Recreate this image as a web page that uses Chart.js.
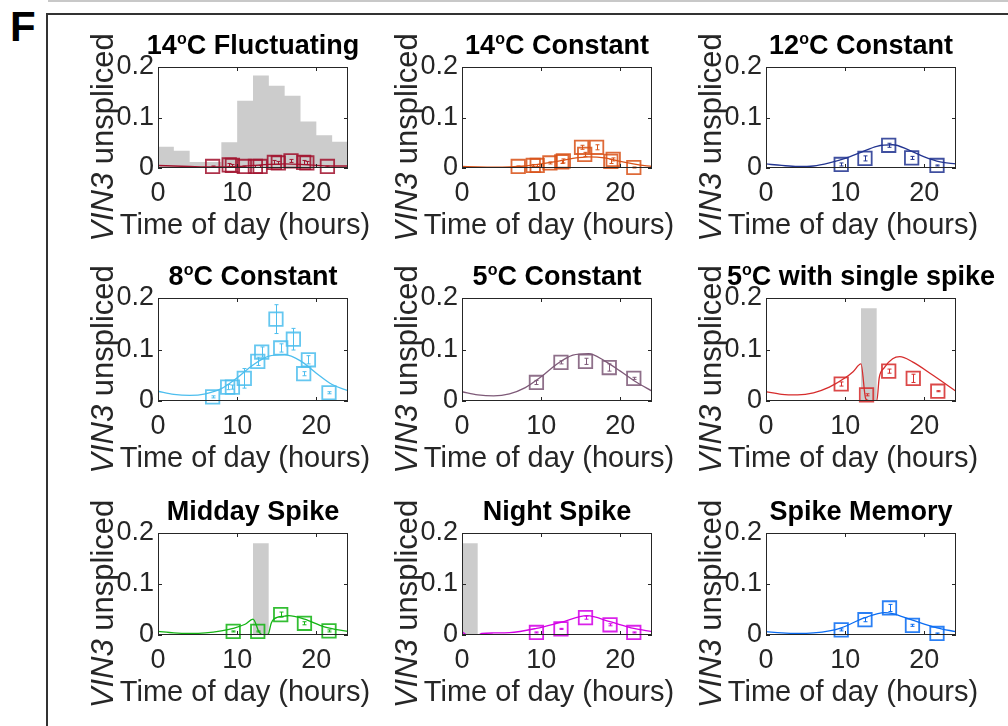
<!DOCTYPE html>
<html>
<head>
<meta charset="utf-8">
<script src="https://cdn.jsdelivr.net/npm/chart.js@4"></script>
<style>
  body { margin: 0; background: #fff; width: 1008px; height: 726px; overflow: hidden; position: relative; }
  .topline { position: absolute; left: 48px; top: 0; width: 960px; height: 2px; background: #c8c8c8; }
  .frame { position: absolute; left: 46px; top: 13px; width: 1000px; height: 800px; border-left: 2px solid #333; border-top: 2px solid #333; }
  .letter { position: absolute; left: 10px; top: 3px; font: bold 42px "Liberation Sans", Arial, sans-serif; }
  canvas { position: absolute; }
</style>
</head>
<body>
<div class="topline"></div>
<div class="frame"></div>
<div class="letter">F</div>
<script>
// panel titles, "^o" is the raised degree sign like in the original TeX
const titles = [
  "14^oC Fluctuating", "14^oC Constant", "12^oC Constant",
  "8^oC Constant", "5^oC Constant", "5^oC with single spike",
  "Midday Spike", "Night Spike", "Spike Memory"
];
const colors = ["#a2142f", "#d95319", "#233591", "#4dbeee", "#7e5a78", "#d62c2c", "#14b414", "#d400e6", "#0a6cf2"];

const xTickValues = [0, 10, 20];
const yTickValues = [0, 0.1, 0.2];

// measured samples (squares with error bars)
const sampleHours = [
  [6.9, 9.0, 9.4, 10.9, 12.3, 12.9, 14.7, 15.2, 16.8, 18.4, 18.8, 21.4],
  [7.1, 9.0, 9.5, 11.1, 12.6, 12.8, 15.1, 15.5, 17.0, 18.8, 19.1, 21.7],
  [9.5, 12.5, 15.5, 18.4, 21.6],
  [6.9, 8.8, 9.4, 10.9, 12.6, 13.1, 14.9, 15.5, 17.1, 18.4, 19.0, 21.6],
  [9.4, 12.5, 15.6, 18.6, 21.7],
  [9.5, 12.7, 15.5, 18.6, 21.7],
  [9.5, 12.6, 15.5, 18.5, 21.6],
  [9.4, 12.5, 15.6, 18.7, 21.7],
  [9.5, 12.5, 15.6, 18.5, 21.6]
];
const sampleValues = [
  [0.003, 0.006, 0.005, 0.003, 0.003, 0.003, 0.011, 0.010, 0.014, 0.011, 0.010, 0.003],
  [0.003, 0.005, 0.005, 0.010, 0.012, 0.014, 0.041, 0.027, 0.041, 0.013, 0.017, 0.001],
  [0.007, 0.019, 0.045, 0.020, 0.005],
  [0.008, 0.027, 0.027, 0.044, 0.077, 0.095, 0.159, 0.103, 0.120, 0.053, 0.080, 0.016],
  [0.036, 0.075, 0.077, 0.065, 0.044],
  [0.033, 0.012, 0.058, 0.044, 0.019],
  [0.007, 0.007, 0.040, 0.023, 0.008],
  [0.005, 0.012, 0.034, 0.020, 0.005],
  [0.010, 0.030, 0.053, 0.019, 0.003]
];
const sampleErrors = [
  [0.001, 0.003, 0.002, 0.001, 0.002, 0.002, 0.004, 0.003, 0.003, 0.004, 0.003, 0.001],
  [0.001, 0.002, 0.002, 0.002, 0.003, 0.004, 0.004, 0.004, 0.005, 0.004, 0.003, 0.001],
  [0.003, 0.005, 0.004, 0.003, 0.001],
  [0.002, 0.005, 0.004, 0.019, 0.008, 0.010, 0.028, 0.008, 0.021, 0.004, 0.008, 0.002],
  [0.004, 0.003, 0.006, 0.007, 0.002],
  [0.004, 0.002, 0.004, 0.008, 0.001],
  [0.001, 0.001, 0.005, 0.003, 0.002],
  [0.001, 0.001, 0.003, 0.002, 0.001],
  [0.002, 0.004, 0.007, 0.002, 0.001]
];

// model curves
const evenHours = [0, 2, 4, 6, 8, 10, 12, 14, 16, 18, 20, 22, 24];
const fitHours = [
  evenHours, evenHours, evenHours, evenHours, evenHours,
  [0, 2, 4, 6, 8, 10, 11, 12, 12.6, 13, 14, 14.3, 14.9, 16, 16.9, 18.5, 21, 24],
  [0, 2, 4, 6, 8, 9.5, 11, 12, 12.8, 13.3, 13.9, 14.3, 14.6, 16, 16.5, 18.5, 21, 24],
  [0, 0.5, 1, 2, 2.5, 4, 6, 9.4, 12.5, 15.8, 18.7, 21.7, 24],
  [0, 2, 4, 6, 8, 9.5, 12.5, 15, 16, 18.5, 21.6, 24]
];
const fitValues = [
  [0.005, 0.004, 0.003, 0.002, 0.002, 0.003, 0.005, 0.007, 0.008, 0.007, 0.005, 0.004, 0.004],
  [0.003, 0.002, 0.0015, 0.002, 0.004, 0.008, 0.013, 0.019, 0.022, 0.020, 0.013, 0.007, 0.003],
  [0.008, 0.005, 0.003, 0.004, 0.010, 0.019, 0.031, 0.043, 0.046, 0.036, 0.022, 0.012, 0.008],
  [0.019, 0.013, 0.011, 0.014, 0.024, 0.045, 0.070, 0.087, 0.090, 0.078, 0.054, 0.032, 0.020],
  [0.018, 0.012, 0.010, 0.014, 0.026, 0.047, 0.072, 0.089, 0.092, 0.078, 0.058, 0.037, 0.019],
  [0.018, 0.013, 0.012, 0.016, 0.027, 0.045, 0.057, 0.072, 0.004, 0.0005, 0.0005, 0.045, 0.064, 0.082, 0.086, 0.076, 0.051, 0.019],
  [0.007, 0.004, 0.003, 0.004, 0.008, 0.013, 0.021, 0.031, 0.005, 0, 0.001, 0.023, 0.031, 0.037, 0.038, 0.031, 0.016, 0.007],
  [0.0066, 0.001, 0, 0, 0.003, 0.004, 0.0046, 0.013, 0.025, 0.038, 0.026, 0.013, 0.0066],
  [0.0065, 0.004, 0.003, 0.004, 0.008, 0.014, 0.034, 0.044, 0.042, 0.029, 0.014, 0.0065]
];

// grey temperature profile of the fluctuating panel (2 h bins, last edge at 24)
const tempBinStart = [0, 2, 4, 6, 8, 10, 12, 14, 16, 18, 20, 22, 24];
const tempBinValues = [0.042, 0.034, 0.012, 0.012, 0.051, 0.133, 0.183, 0.163, 0.143, 0.092, 0.065, 0.052, 0.052];

// grey warm spikes: [start hour, end hour] per panel
const spikeWindows = [null, null, null, null, null, [12, 14], [12, 14], [0, 2], null];
const spikeHeight = 0.18;

// page geometry of the plot boxes
const colLeft = [158, 462, 766];
const rowTop = [67, 298, 533];
const rowHeight = [101, 103, 102];
const plotWidth = 190;

const FONT = '"Liberation Sans", Arial, sans-serif';
Chart.defaults.font.family = FONT;

function drawTitle(ctx, text, cx, baseY) {
  const big = "bold 27px " + FONT;
  const small = "bold 16px " + FONT;
  ctx.fillStyle = "#000";
  ctx.textBaseline = "alphabetic";
  ctx.textAlign = "left";
  const parts = text.split("^o");
  ctx.font = big;
  if (parts.length < 2) {
    ctx.textAlign = "center";
    ctx.fillText(text, cx, baseY);
    return;
  }
  const w0 = ctx.measureText(parts[0]).width;
  const w2 = ctx.measureText(parts[1]).width;
  ctx.font = small;
  const w1 = ctx.measureText("o").width;
  const x0 = cx - (w0 + w1 + w2) / 2;
  ctx.font = big;
  ctx.fillText(parts[0], x0, baseY);
  ctx.font = small;
  ctx.fillText("o", x0 + w0, baseY - 10);
  ctx.font = big;
  ctx.fillText(parts[1], x0 + w0 + w1, baseY);
}

function drawYLabel(ctx, x, y) {
  const ital = "italic 31px " + FONT;
  const norm = "31px " + FONT;
  ctx.save();
  ctx.translate(x, y);
  ctx.rotate(-Math.PI / 2);
  ctx.fillStyle = "#262626";
  ctx.textBaseline = "alphabetic";
  ctx.textAlign = "left";
  ctx.font = ital;
  const w0 = ctx.measureText("VIN3").width;
  ctx.font = norm;
  const w1 = ctx.measureText(" unspliced").width;
  const start = -(w0 + w1) / 2;
  ctx.font = ital;
  ctx.fillText("VIN3", start, 0);
  ctx.font = norm;
  ctx.fillText(" unspliced", start + w0, 0);
  ctx.restore();
}

const panelDecor = {
  id: "panelDecor",
  afterDatasetsDraw(chart, args, opts) {
    const { ctx } = chart;
    const x = chart.scales.x, y = chart.scales.y;
    const i = opts.index;
    ctx.save();
    ctx.strokeStyle = colors[i];
    ctx.lineWidth = 1;
    sampleHours[i].forEach((h, k) => {
      const v = sampleValues[i][k], e = sampleErrors[i][k];
      const px = Math.round(x.getPixelForValue(h)) + 0.5;
      const y1 = y.getPixelForValue(v - e), y2 = y.getPixelForValue(v + e);
      ctx.beginPath();
      ctx.moveTo(px, y1); ctx.lineTo(px, y2);
      ctx.moveTo(px - 2, y1); ctx.lineTo(px + 2, y1);
      ctx.moveTo(px - 2, y2); ctx.lineTo(px + 2, y2);
      ctx.stroke();
    });
    ctx.restore();
  },
  afterDraw(chart, args, opts) {
    const { ctx, chartArea: a } = chart;
    const x = chart.scales.x, y = chart.scales.y;
    ctx.save();
    // axes box with inward ticks on all four sides
    ctx.strokeStyle = "#262626";
    ctx.lineWidth = 1;
    ctx.strokeRect(a.left + 0.5, a.top + 0.5, a.right - a.left - 1, a.bottom - a.top - 1);
    ctx.beginPath();
    xTickValues.forEach(v => {
      const px = Math.round(x.getPixelForValue(v)) + 0.5;
      ctx.moveTo(px, a.bottom); ctx.lineTo(px, a.bottom - 4);
      ctx.moveTo(px, a.top); ctx.lineTo(px, a.top + 4);
    });
    yTickValues.forEach(v => {
      const py = Math.round(y.getPixelForValue(v)) + 0.5;
      ctx.moveTo(a.left, py); ctx.lineTo(a.left + 4, py);
      ctx.moveTo(a.right, py); ctx.lineTo(a.right - 4, py);
    });
    ctx.stroke();
    // x axis title, drawn here so it is not squeezed to the plot width
    ctx.fillStyle = "#262626";
    ctx.font = "29px " + FONT;
    ctx.textAlign = "center";
    ctx.textBaseline = "middle";
    ctx.fillText("Time of day (hours)", (a.left + a.right) / 2 - 8, a.bottom + 58);
    drawTitle(ctx, titles[opts.index], (a.left + a.right) / 2, a.top - 13);
    drawYLabel(ctx, a.left - 45, (a.top + a.bottom) / 2 + 20);
    ctx.restore();
  }
};

function makePanel(i) {
  const row = Math.floor(i / 3), col = i % 3;
  const plotH = rowHeight[row];
  const canvas = document.createElement("canvas");
  canvas.width = 80 + plotWidth + 45;
  canvas.height = 50 + plotH + 80;
  canvas.style.left = (colLeft[col] - 80) + "px";
  canvas.style.top = (rowTop[row] - 50) + "px";
  document.body.appendChild(canvas);

  const datasets = [];
  // grey background: fluctuating profile or single spike
  if (i === 0) {
    datasets.push({
      type: "line",
      data: tempBinStart.map((h, k) => ({ x: h, y: tempBinValues[k] })),
      stepped: "before",
      fill: "origin",
      backgroundColor: "#cccccc",
      borderWidth: 0,
      pointRadius: 0,
      order: 3
    });
  }
  if (spikeWindows[i]) {
    datasets.push({
      type: "line",
      data: spikeWindows[i].map(h => ({ x: h, y: spikeHeight })),
      fill: "origin",
      backgroundColor: "#cccccc",
      borderWidth: 0,
      pointRadius: 0,
      tension: 0,
      order: 3
    });
  }
  // model fit
  datasets.push({
    type: "line",
    data: fitHours[i].map((h, k) => ({ x: h, y: fitValues[i][k] })),
    borderColor: colors[i],
    borderWidth: 1.3,
    pointRadius: 0,
    fill: false,
    cubicInterpolationMode: "monotone",
    order: 2
  });
  // measured means
  datasets.push({
    type: "scatter",
    data: sampleHours[i].map((h, k) => ({ x: h, y: sampleValues[i][k] })),
    pointStyle: "rect",
    pointRadius: 9.5,
    borderWidth: 1.8,
    borderColor: colors[i] + "dd",
    backgroundColor: "rgba(0,0,0,0)",
    clip: false,
    order: 1
  });

  new Chart(canvas, {
    type: "scatter",
    data: { datasets },
    options: {
      responsive: false,
      animation: false,
      devicePixelRatio: 1,
      layout: { padding: { left: 20, top: 50, right: 45, bottom: 0 } },
      plugins: {
        legend: { display: false },
        tooltip: { enabled: false },
        panelDecor: { index: i }
      },
      scales: {
        x: {
          type: "linear",
          min: 0,
          max: 24,
          afterBuildTicks: s => { s.ticks = xTickValues.map(v => ({ value: v })); },
          afterFit: s => { s.height = 80; },
          grid: { display: false, drawTicks: false },
          border: { display: false },
          ticks: {
            padding: 9, color: "#262626", font: { size: 27 },
            maxRotation: 0, autoSkip: false, callback: v => String(v)
          },
          title: { display: false }
        },
        y: {
          type: "linear",
          min: 0,
          max: 0.2,
          afterBuildTicks: s => { s.ticks = yTickValues.map(v => ({ value: v })); },
          afterFit: s => { s.width = 60; },
          grid: { display: false, drawTicks: false },
          border: { display: false },
          ticks: {
            padding: 4, color: "#262626", font: { size: 27 },
            autoSkip: false, callback: v => String(v)
          }
        }
      }
    },
    plugins: [panelDecor]
  });
}

for (let i = 0; i < 9; i++) makePanel(i);
</script>
</body>
</html>
